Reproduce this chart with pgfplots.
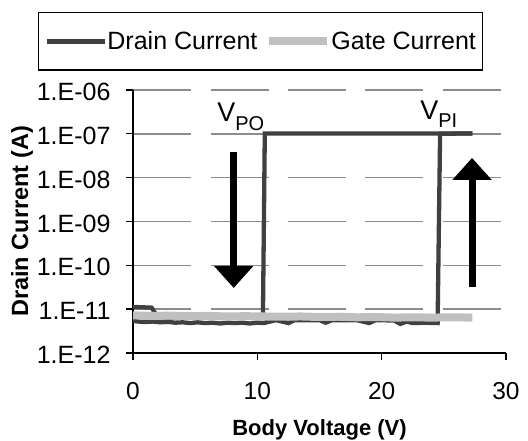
\documentclass[border=0pt]{standalone}
\usepackage{fontspec}
\setmainfont{Liberation Sans}
\usepackage{pgfplots}
\pgfplotsset{compat=1.18}
\usetikzlibrary{arrows.meta}
\definecolor{drain}{HTML}{404040}
\definecolor{gate}{HTML}{C0C0C0}
\definecolor{gridc}{HTML}{8C8C8C}

\begin{document}
\begin{tikzpicture}
\begin{axis}[
  scale only axis, width=373pt, height=263pt,
  ymode=log, xmin=0, xmax=30, ymin=1e-12, ymax=1e-6,
  axis x line*=bottom, axis y line*=left,
  axis line style={line width=1.3pt},
  tick align=outside, major tick length=7pt,
  tick style={line width=1.3pt, black},
  xtick={0,10,20,30},
  ytick={1e-12,1e-11,1e-10,1e-9,1e-8,1e-7,1e-6},
  yticklabels={1.E-12,1.E-11,1.E-10,1.E-09,1.E-08,1.E-07,1.E-06},
  xminorticks=false, yminorticks=false,
  ymajorgrids,
  major grid style={gridc, line width=1.5pt, dash pattern=on 58pt off 19.5pt},
  /pgf/number format/assume math mode=true,
  ticklabel style={font=\fontsize{24.5}{26}\selectfont},
  xticklabel style={yshift=-19pt},
  yticklabel style={xshift=-12pt, yshift=-2pt, font=\fontsize{25}{26}\selectfont},
  xlabel={Body Voltage (V)}, ylabel={Drain Current (A)},
  every axis x label/.style={at={(axis description cs:0.5,-0.293)}, anchor=center,
    font=\bfseries\fontsize{22}{24}\selectfont},
  every axis y label/.style={at={(axis description cs:-0.2976,0.5)}, anchor=center,
    rotate=90, font=\bfseries\fontsize{23.5}{25}\selectfont},
  legend columns=2,
  legend style={at={(axis description cs:-0.255,1.297)}, anchor=north west,
    draw=black, line width=1.5pt, font=\fontsize{25}{28}\selectfont,
    nodes={inner xsep=0pt},
    inner xsep=6.5pt, inner ysep=17pt,
    /tikz/every even column/.append style={column sep=8pt}},
  legend image code/.code={\path (0pt,0pt) -- (58pt,0pt);
    \draw[#1] (5pt,0pt) -- (55pt,0pt);},
  clip=false,
]
% drain current, forward sweep
\addplot[draw=drain, line width=4.3pt] coordinates {
(0,5.4e-12)(0.4,5.2e-12)(1,5.1e-12)(1.6,5.2e-12)(2.2,5.0e-12)(2.8,5.1e-12)
(3.4,4.9e-12)(4,5.0e-12)(4.6,4.8e-12)(5.2,5.0e-12)(5.8,4.8e-12)(6.4,4.9e-12)
(7,4.7e-12)(7.6,4.9e-12)(8.2,4.8e-12)(8.8,4.9e-12)(9.4,4.7e-12)(10,4.9e-12)
(10.5,4.8e-12)(11.5,5.6e-12)(12.5,4.8e-12)(13,5.6e-12)(15,5.6e-12)(15.5,4.9e-12)
(16,5.6e-12)(18,5.6e-12)(19,4.8e-12)(19.5,5.6e-12)(21,5.5e-12)(21.5,4.6e-12)
(22,5.2e-12)(22.5,4.8e-12)(23.5,4.9e-12)(24.5,4.8e-12)
(24.7,1e-7)(27.3,1.02e-7)
};
\addlegendentry{Drain Current}
% drain current, reverse sweep
\addplot[draw=drain, line width=4.3pt, forget plot] coordinates {
(27.3,1.02e-7)(10.6,1.02e-7)(10.45,6.3e-12)(6,6.4e-12)(2,6.5e-12)
(1.5,1.08e-11)(0,1.12e-11)
};
% gate current
\addplot[draw=gate, line width=8pt] coordinates {
(0,7.2e-12)(1.5,7.0e-12)(3,7.1e-12)(4.5,6.9e-12)(6,7.0e-12)(7.5,6.8e-12)
(9,6.9e-12)(10.5,6.8e-12)(12,6.7e-12)(13.5,6.8e-12)(15,6.6e-12)(16.5,6.7e-12)
(18,6.5e-12)(19.5,6.6e-12)(21,6.4e-12)(22.5,6.5e-12)(24,6.4e-12)(25.5,6.5e-12)
(27.3,6.4e-12)
};
\addlegendentry{Gate Current}

\draw[line width=7pt, -{Triangle[width=38pt,length=22pt]}]
  (axis cs:8.1,3.86e-8) -- (axis cs:8.1,3.04e-11);
\draw[line width=7pt, -{Triangle[width=38pt,length=22pt]}]
  (axis cs:27.27,3.2e-11) -- (axis cs:27.27,2.81e-8);
\node[anchor=base west, inner sep=0pt, font=\fontsize{27}{30}\selectfont]
  at (axis cs:6.76,1.86e-7) {V\raisebox{-9pt}{\fontsize{20}{22}\selectfont PO}};
\node[anchor=base west, inner sep=0pt, font=\fontsize{27}{30}\selectfont]
  at (axis cs:23.09,2.07e-7) {V\raisebox{-8pt}{\fontsize{20}{22}\selectfont PI}};

\coordinate (bl) at (axis description cs:-0.3566,-0.3346);
\coordinate (tr) at (axis description cs:1.059,1.342);
\end{axis}
\pgfresetboundingbox
\path[use as bounding box] (bl) rectangle (tr);
\end{tikzpicture}
\end{document}
